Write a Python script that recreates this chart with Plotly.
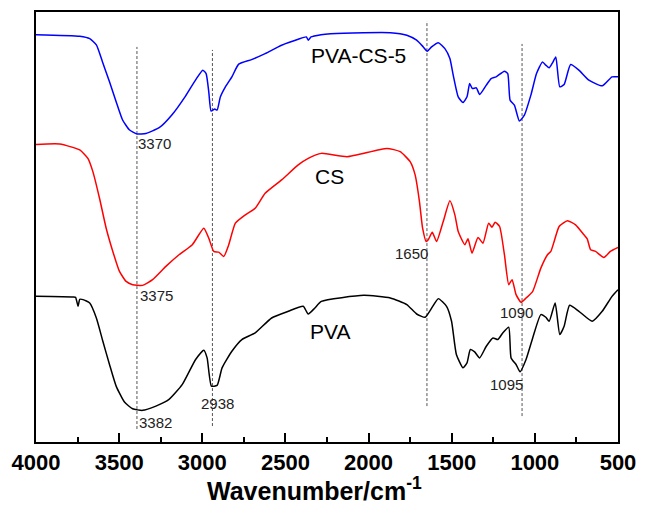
import plotly.graph_objects as go

# ---------------- data (wavenumber cm^-1, transmittance a.u. with offsets) ----------------
pvacs_wn = [4000, 3737, 3677, 3637, 3600, 3558, 3518, 3480, 3439, 3393, 3339, 3259, 3182, 3100,
            3040, 2997, 2977, 2961, 2947, 2925, 2911, 2891, 2861, 2822, 2781, 2704, 2622, 2523,
            2423, 2374, 2363, 2346, 2286, 2228, 2029, 1869, 1770, 1711, 1671, 1647, 1621, 1581,
            1541, 1511, 1491, 1461, 1432, 1408, 1392, 1376, 1352, 1332, 1292, 1263, 1233, 1183,
            1163, 1149, 1123, 1093, 1063, 1024, 990, 954, 934, 914, 894, 874, 850, 824, 785, 735,
            675, 595, 536, 500]
pvacs_t = [40.83, 40.67, 40.43, 39.8, 38.1, 36.1, 34.1, 32.3, 31.3, 30.87, 30.93, 31.5, 32.8, 34.7,
           36.3, 37.27, 36.93, 35.1, 33.17, 33.37, 33.27, 34.6, 35.6, 36.6, 37.87, 38.33, 38.93, 39.77,
           40.37, 40.6, 40.27, 40.6, 40.83, 40.93, 41.03, 41.03, 40.77, 40.27, 39.6, 39.17, 39.6, 40.03,
           39.43, 38.43, 36.77, 34.6, 34.03, 34.6, 35.93, 35.43, 35.5, 34.83, 35.77, 36.43, 36.6, 37.17,
           36.93, 34.27, 33.77, 32.17, 32.77, 34.77, 36.93, 38.1, 37.77, 37.5, 38.0, 38.6, 35.6, 35.83,
           37.83, 37.27, 36.27, 35.7, 36.6, 36.6]

cs_wn = [4000, 3857, 3737, 3688, 3658, 3618, 3578, 3538, 3498, 3458, 3419, 3359, 3299, 3219, 3140,
         3060, 2991, 2961, 2931, 2901, 2871, 2841, 2801, 2741, 2682, 2622, 2523, 2423, 2363, 2284,
         2129, 1890, 1810, 1750, 1720, 1694, 1675, 1654, 1641, 1617, 1591, 1551, 1511, 1481, 1461,
         1421, 1402, 1378, 1342, 1312, 1278, 1258, 1239, 1212, 1183, 1157, 1137, 1113, 1083, 1053,
         1013, 964, 924, 904, 884, 854, 804, 755, 705, 685, 665, 635, 585, 546, 500]
cs_t = [29.83, 29.87, 29.27, 28.43, 27.1, 24.43, 21.43, 19.1, 17.1, 16.1, 15.77, 15.7, 16.27, 17.6, 18.77,
        19.77, 21.43, 20.43, 19.1, 19.03, 18.6, 19.77, 21.93, 22.77, 23.43, 24.93, 26.27, 27.77, 28.43, 28.93,
        28.6, 29.43, 29.1, 28.1, 26.77, 24.1, 21.43, 20.1, 20.27, 21.03, 20.1, 22.1, 24.17, 22.77, 21.1,
        19.77, 20.37, 18.93, 20.5, 19.93, 21.93, 21.53, 22.03, 21.6, 18.77, 15.77, 16.27, 14.77, 14.0, 14.43,
        15.1, 17.43, 18.77, 19.1, 20.1, 21.6, 22.17, 21.77, 20.77, 20.37, 19.27, 19.1, 18.5, 19.1, 19.5]

pva_wn = [4000, 3777, 3762, 3747, 3737, 3717, 3677, 3637, 3598, 3558, 3518, 3468, 3419, 3359, 3279,
          3200, 3120, 3040, 2991, 2971, 2945, 2911, 2881, 2822, 2762, 2682, 2583, 2483, 2393, 2363,
          2323, 2284, 2029, 1869, 1770, 1711, 1660, 1630, 1581, 1531, 1501, 1472, 1432, 1408, 1388,
          1362, 1332, 1292, 1252, 1223, 1193, 1157, 1143, 1113, 1089, 1053, 1013, 964, 934, 914,
          878, 850, 824, 791, 735, 655, 595, 536, 500]
pva_t = [14.6, 14.53, 14.5, 13.6, 14.3, 14.27, 13.93, 12.43, 10.1, 7.77, 5.6, 4.0, 3.33, 3.17, 3.6,
         4.27, 5.77, 8.27, 9.2, 8.43, 5.6, 5.67, 7.43, 9.1, 10.27, 10.93, 12.43, 13.1, 13.6, 12.83,
         13.43, 14.1, 14.7, 14.43, 13.77, 12.83, 12.5, 13.17, 14.37, 13.6, 12.1, 8.77, 7.43, 7.93, 9.27,
         9.03, 8.43, 9.6, 10.43, 10.27, 10.93, 11.5, 8.43, 7.77, 7.03, 8.27, 10.43, 12.77, 12.5, 12.1,
         13.93, 10.77, 11.6, 13.7, 13.1, 12.1, 13.1, 14.6, 15.27]

# reference (dashed) lines at band positions
line_wn = [3393, 2939, 1649, 1077]
line_top = [39.6, 39.3, 42.2, 39.9]
line_bottom = [1.3, 1.6, 3.6, 2.6]

# peak labels
peak_text = ["3370", "3375", "3382", "2938", "1650", "1090", "1095"]
peak_wn = [3289, 3274, 3280, 2907, 1744, 1109, 1169]
peak_t = [29.9, 14.7, 2.0, 3.85, 18.85, 13.0, 5.8]

# series names
series_names = ["PVA-CS-5", "CS", "PVA"]
series_colors = ["#0000FF", "#FF0000", "#000000"]
name_wn = [2062, 2232, 2232]
name_t = [38.75, 26.6, 11.1]

x_ticks = [4000, 3500, 3000, 2500, 2000, 1500, 1000, 500]

FONT = "Arial, Liberation Sans, sans-serif"

fig = go.Figure()

for wn, top, bot in zip(line_wn, line_top, line_bottom):
    fig.add_trace(go.Scatter(x=[wn, wn], y=[bot, top], mode="lines",
                             line=dict(color="#555555", width=1, dash="3px,2px"),
                             showlegend=False, hoverinfo="skip"))

for xs, ys, c in [(pvacs_wn, pvacs_t, series_colors[0]),
                  (cs_wn, cs_t, series_colors[1]),
                  (pva_wn, pva_t, series_colors[2])]:
    fig.add_trace(go.Scatter(x=xs, y=ys, mode="lines",
                             line=dict(color=c, width=1.5, shape="spline", smoothing=0.5),
                             showlegend=False))

for t, x, y in zip(peak_text, peak_wn, peak_t):
    fig.add_annotation(x=x, y=y, text=t, showarrow=False,
                       font=dict(family=FONT, size=15, color="#222222"))

for t, x, y in zip(series_names, name_wn, name_t):
    fig.add_annotation(x=x, y=y, text=t, showarrow=False,
                       font=dict(family=FONT, size=21, color="#000000"))

fig.add_annotation(xref="paper", yref="paper", x=(316 - 36) / 586, y=-(489 - 442) / 431,
                   xanchor="center", yanchor="middle", showarrow=False,
                   text="<b>Wavenumber/cm<sup>-1</sup></b>",
                   font=dict(family=FONT, size=25, color="#000000"))

fig.update_xaxes(range=[4000, 500], tickvals=x_ticks,
                 ticktext=["<b>%d</b>" % v for v in x_ticks],
                 ticks="inside", ticklen=9, tickwidth=1.5, tickcolor="#000",
                 minor=dict(ticks="inside", ticklen=5, tickwidth=1.5, tickcolor="#000", dtick=250,
                            tick0=500, showgrid=False),
                 showline=True, linecolor="#000", linewidth=1.5, mirror=True,
                 showgrid=False, zeroline=False,
                 tickfont=dict(family=FONT, size=22, color="#000"))
fig.update_yaxes(range=[0, 43.1], showticklabels=False, ticks="", showline=True,
                 linecolor="#000", linewidth=1.5, mirror=True, showgrid=False, zeroline=False)

fig.update_layout(width=646, height=507, margin=dict(l=36, r=24, t=10, b=65),
                  plot_bgcolor="white", paper_bgcolor="white", showlegend=False)

fig.write_html("out.html")
